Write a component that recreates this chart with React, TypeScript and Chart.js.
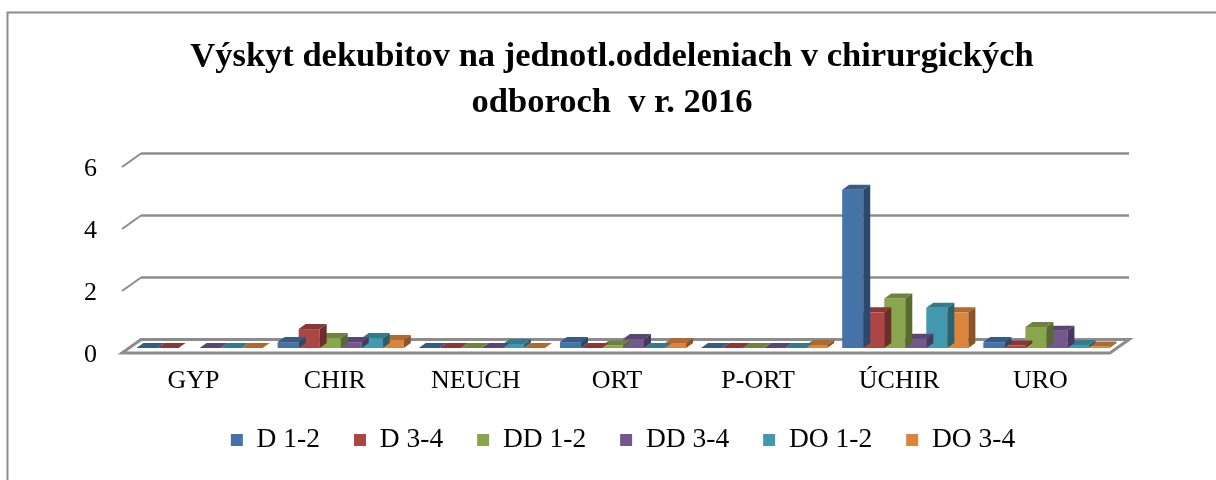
import React, { useEffect, useRef } from 'react';
import { Chart, registerables } from 'chart.js';

Chart.register(...registerables);

// ---- data ----
const categories = ['GYP', 'CHIR', 'NEUCH', 'ORT', 'P-ORT', 'ÚCHIR', 'URO'];
const seriesNames = ['D 1-2', 'D 3-4', 'DD 1-2', 'DD 3-4', 'DO 1-2', 'DO 3-4'];
const d12 = [0, 0.19, 0, 0.19, 0, 5.1, 0.19];
const d34 = [0, 0.61, 0, 0, 0, 1.15, 0.08];
const dd12 = [null, 0.32, 0, 0.08, 0, 1.6, 0.68];
const dd34 = [0, 0.19, 0, 0.29, 0, 0.3, 0.56];
const do12 = [0, 0.32, 0.13, 0, 0, 1.3, 0.1];
const do34 = [0, 0.26, 0, 0.16, 0.1, 1.15, 0.05];
const yTicks = [0, 2, 4, 6];
const titleLines = ['Výskyt dekubitov na jednotl.oddeleniach v chirurgických', 'odboroch  v r. 2016'];

// ---- styles ----
const seriesValues = [d12, d34, dd12, dd34, do12, do34];
const colors = ['#4572A7', '#AA4643', '#89A54E', '#71588F', '#4198AF', '#DB843D'];
const FONT = '"Times New Roman", "Liberation Serif", serif';
const GRID = '#8c8c8c';
const FRONT_DX = -7, FRONT_DY = 5, BACK_DX = 12, BACK_DY = -8.5;
const BAR_DX = 7, BAR_DY = 5;

function shade(hex: string, f: number) {
  const n = parseInt(hex.slice(1), 16);
  const r = Math.round(((n >> 16) & 255) * f);
  const g = Math.round(((n >> 8) & 255) * f);
  const b = Math.round((n & 255) * f);
  return `rgb(${r},${g},${b})`;
}

const frame3d = {
  id: 'frame3d',
  beforeDraw(chart: any) {
    const ctx = chart.ctx;
    ctx.save();
    ctx.fillStyle = '#ffffff';
    ctx.fillRect(0, 0, chart.width, chart.height);
    ctx.strokeStyle = GRID;
    ctx.lineWidth = 2;
    ctx.strokeRect(7.5, 12.5, chart.width + 20, chart.height + 20);
    ctx.restore();
  },
  beforeDatasetsDraw(chart: any) {
    const ctx = chart.ctx;
    const ys = chart.scales.y;
    const { left, right } = chart.chartArea;
    ctx.save();
    ctx.strokeStyle = GRID;
    ctx.lineCap = 'butt';
    yTicks.forEach((v) => {
      if (v === 0) return;
      const py = ys.getPixelForValue(v);
      ctx.lineWidth = 2.5;
      ctx.beginPath();
      ctx.moveTo(left + BACK_DX, py + BACK_DY);
      ctx.lineTo(right + BACK_DX, py + BACK_DY);
      ctx.stroke();
      ctx.lineWidth = 2;
      ctx.beginPath();
      ctx.moveTo(left + FRONT_DX, py + FRONT_DY);
      ctx.lineTo(left + BACK_DX, py + BACK_DY);
      ctx.stroke();
    });
    const base = ys.getPixelForValue(0);
    ctx.beginPath();
    ctx.moveTo(left + FRONT_DX, base + FRONT_DY);
    ctx.lineTo(right + FRONT_DX, base + FRONT_DY);
    ctx.lineTo(right + BACK_DX, base + BACK_DY);
    ctx.lineTo(left + BACK_DX, base + BACK_DY);
    ctx.closePath();
    ctx.fillStyle = '#ffffff';
    ctx.fill();
    ctx.lineWidth = 3;
    ctx.stroke();
    ctx.restore();
  },
  afterDatasetDraw(chart: any, args: any) {
    const ctx = chart.ctx;
    const meta = args.meta;
    const data = chart.data.datasets[args.index].data;
    const col = colors[args.index];
    ctx.save();
    meta.data.forEach((el: any, i: number) => {
      if (data[i] === null || data[i] === undefined) return;
      const { x, y, base, width } = el.getProps(['x', 'y', 'base', 'width'], true);
      const l = x - width / 2;
      const r = x + width / 2;
      const top = Math.min(y, base);
      const bot = Math.max(y, base);
      ctx.fillStyle = shade(col, 0.8);
      ctx.beginPath();
      ctx.moveTo(l, top);
      ctx.lineTo(r, top);
      ctx.lineTo(r + BAR_DX, top - BAR_DY);
      ctx.lineTo(l + BAR_DX, top - BAR_DY);
      ctx.closePath();
      ctx.fill();
      if (bot - top > 0.5) {
        ctx.fillStyle = shade(col, 0.64);
        ctx.beginPath();
        ctx.moveTo(r, top);
        ctx.lineTo(r + BAR_DX, top - BAR_DY);
        ctx.lineTo(r + BAR_DX, bot - BAR_DY);
        ctx.lineTo(r, bot);
        ctx.closePath();
        ctx.fill();
      }
    });
    ctx.restore();
  },
};

export default function App() {
  const ref = useRef<HTMLCanvasElement | null>(null);

  useEffect(() => {
    if (!ref.current) return;
    const chart = new Chart(ref.current, {
      type: 'bar',
      data: {
        labels: categories,
        datasets: seriesNames.map((name, i) => ({
          label: name,
          data: seriesValues[i],
          backgroundColor: colors[i],
          borderWidth: 0,
          barPercentage: 1,
          categoryPercentage: 0.894,
        })),
      },
      options: {
        animation: false,
        responsive: true,
        maintainAspectRatio: false,
        layout: { padding: { left: 48, right: 40, top: 0, bottom: 16.25 } },
        plugins: {
          tooltip: { enabled: false },
          title: {
            display: true,
            text: titleLines,
            color: '#000',
            font: { family: FONT, size: 34.5, weight: 'bold', lineHeight: 1.33 },
            padding: { top: 34.1, bottom: 36.1 },
          },
          legend: {
            position: 'bottom',
            fullSize: false,
            labels: {
              color: '#000',
              font: { family: FONT, size: 27.5 },
              boxWidth: 12,
              boxHeight: 12,
              padding: 34,
            },
          },
        },
        scales: {
          x: {
            grid: { display: false, drawTicks: false },
            border: { display: false },
            ticks: {
              color: '#000',
              font: { family: FONT, size: 26, lineHeight: 1.2 },
              padding: 17.9,
              labelOffset: -6,
              autoSkip: false,
              maxRotation: 0,
            },
            afterFit: (s: any) => { s.height = 44.25; },
          },
          y: {
            min: 0,
            max: 6,
            grid: { display: false, drawTicks: false },
            border: { display: false },
            ticks: {
              stepSize: 2,
              color: '#000',
              font: { family: FONT, size: 26 },
              padding: 32,
              labelOffset: 7,
            },
            afterFit: (s: any) => { s.width = 81; },
          },
          y2: {
            position: 'right',
            grid: { display: false, drawTicks: false },
            border: { display: false },
            ticks: { display: false },
            afterFit: (s: any) => { s.width = 59; },
          },
        },
      },
      plugins: [frame3d],
    });
    return () => chart.destroy();
  }, []);

  return (
    <div style={{ position: 'absolute', left: 0, top: 0, width: 1216, height: 480, background: '#fff' }}>
      <canvas ref={ref} />
    </div>
  );
}
